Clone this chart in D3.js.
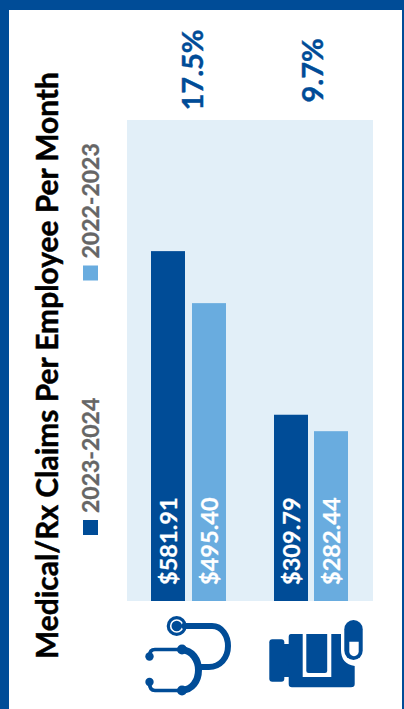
<!DOCTYPE html>
<html>
<head>
<meta charset="utf-8">
<script src="https://cdn.jsdelivr.net/npm/d3@7"></script>
<style>
  html, body { margin: 0; padding: 0; background: #fff; }
  svg { display: block; }
  text { font-family: Lato, "Open Sans", sans-serif; }
</style>
</head>
<body>
<svg id="chart" width="404" height="709"></svg>
<script>
// Claims per employee per month, by plan year
const categories = ["Medical", "Rx"];
const years = ["2023-2024", "2022-2023"];
const claims2023 = [581.91, 309.79];
const claims2022 = [495.40, 282.44];
const trendLabels = ["17.5%", "9.7%"];
const chartTitle = "Medical/Rx Claims Per Employee Per Month";

const NAVY = "#004c97";
const SKY = "#69acdf";
const PANEL = "#e2eff8";

const svg = d3.select("#chart");

// Frame around the page
svg.append("rect").attr("width", 404).attr("height", 709).attr("fill", NAVY);
svg.append("rect").attr("x", 9).attr("y", 10).attr("width", 393).attr("height", 699).attr("fill", "#fff");

const panel = { left: 127, right: 373, top: 120, bottom: 601 };

const x = d3.scaleBand().domain(categories)
  .range([panel.left, panel.right]).paddingInner(0).paddingOuter(0);
const y = d3.scaleLinear().domain([0, 800]).range([panel.bottom, panel.top]);

svg.append("rect")
  .attr("x", panel.left).attr("y", panel.top)
  .attr("width", panel.right - panel.left).attr("height", panel.bottom - panel.top)
  .attr("fill", PANEL);

// Bars sit as a pair in each category band
const barWidth = 34;
const series = [
  { values: claims2023, color: NAVY, offset: d3.scaleOrdinal().domain(categories).range([24, 24]) },
  { values: claims2022, color: SKY, offset: d3.scaleOrdinal().domain(categories).range([65, 64]) }
];

series.forEach(s => {
  const g = svg.append("g");
  const rows = categories.map((c, i) => ({ c, v: s.values[i], bx: x(c) + s.offset(c) }));
  g.selectAll("rect").data(rows).join("rect")
    .attr("x", d => d.bx)
    .attr("y", d => y(d.v))
    .attr("width", barWidth)
    .attr("height", d => y(0) - y(d.v))
    .attr("fill", s.color);
  g.selectAll("text").data(rows).join("text")
    .attr("transform", d => `translate(${d.bx + barWidth / 2 + 8.5},${y(0) - 16}) rotate(-90)`)
    .attr("font-size", 23.6)
    .attr("font-weight", 700)
    .attr("fill", "#fff")
    .attr("stroke", "#fff")
    .attr("stroke-width", 0.25)
    .text(d => "$" + d3.format(".2f")(d.v));
});

// Year-over-year change above each group
svg.selectAll("text.trend").data(categories).join("text")
  .attr("class", "trend")
  .attr("transform", (d, i) => `translate(${[203, 323][i]},${[110.5, 102.5][i]}) rotate(-90)`)
  .attr("font-size", 29)
  .attr("font-weight", 700)
  .attr("fill", NAVY)
  .attr("stroke", NAVY)
  .attr("stroke-width", 0.4)
  .text((d, i) => trendLabels[i]);

// Title
svg.append("text")
  .attr("transform", "translate(58,659) rotate(-90)")
  .attr("font-size", 29.9)
  .attr("font-weight", 700)
  .attr("fill", "#000")
  .attr("stroke", "#000")
  .attr("stroke-width", 0.45)
  .text(chartTitle);

// Legend
const legend = svg.selectAll("g.legend").data(years).join("g")
  .attr("class", "legend")
  .attr("transform", (d, i) => `translate(83,${[535, 280.5][i]})`);
legend.append("rect")
  .attr("y", -15).attr("width", 15).attr("height", 15)
  .attr("fill", (d, i) => [NAVY, SKY][i]);
legend.append("text")
  .attr("transform", "translate(15.5,-22) rotate(-90)")
  .attr("font-size", 23)
  .attr("font-weight", 700)
  .attr("fill", "#666")
  .attr("stroke", "#666")
  .attr("stroke-width", 0.3)
  .text(d => d);

// Stethoscope icon
const steth = svg.append("g").attr("fill", "none").attr("stroke", NAVY).attr("stroke-linecap", "round");
steth.append("circle").attr("cx", 176.7).attr("cy", 626).attr("r", 10).attr("fill", NAVY).attr("stroke", "none");
steth.append("circle").attr("cx", 176.7).attr("cy", 626).attr("r", 6).attr("stroke", "#fff").attr("stroke-width", 1.6);
steth.append("path").attr("stroke-width", 6)
  .attr("d", "M184 626 H212 C222 626 228 636 228 646 C228 658 220 667 209 667 H198");
steth.append("path").attr("stroke-width", 7)
  .attr("d", "M182 650 C192 650 198.5 660 198.5 670 C198.5 681 192 690 182 690");
steth.append("path").attr("stroke-width", 3.6)
  .attr("d", "M180 649.5 H155 Q149.5 649.5 149.5 656 M180 690.5 H155 Q149.5 690.5 149.5 683");
steth.selectAll("circle.joint").data([[182, 649.5], [182, 690.5], [149.5, 656.5], [149.5, 682]]).join("circle")
  .attr("class", "joint")
  .attr("cx", d => d[0]).attr("cy", d => d[1])
  .attr("r", (d, i) => i < 2 ? 5 : 4.2)
  .attr("fill", NAVY).attr("stroke", "none");

// Pill bottle icon
const bottle = svg.append("g").attr("fill", NAVY);
bottle.append("rect").attr("x", 269.3).attr("y", 639.3).attr("width", 15).attr("height", 42.5).attr("rx", 3);
bottle.append("rect").attr("x", 283).attr("y", 644).attr("width", 7).attr("height", 33);
bottle.append("path")
  .attr("d", "M291 634 H341 V650 Q341 664 354.7 666 V684 Q354.7 687.3 351 687.3 H292 Q288.7 687.3 288.7 684 V637 Q288.7 634 291 634 Z");
bottle.append("path").attr("fill", "#fff").attr("d", "M302.7 634 H331.3 V677 H302.7 Z");
bottle.append("path").attr("d", "M306.3 634 H327.2 V671 Q327.2 673 325 673 H308.5 Q306.3 673 306.3 671 Z");
bottle.append("rect").attr("x", 344.3).attr("y", 620).attr("width", 18.4).attr("height", 40).attr("rx", 9.2);
bottle.append("path").attr("fill", "#fff")
  .attr("d", "M349.3 641.7 H358.7 V651.5 A4.7 4.7 0 0 1 349.3 651.5 Z");
</script>
</body>
</html>
